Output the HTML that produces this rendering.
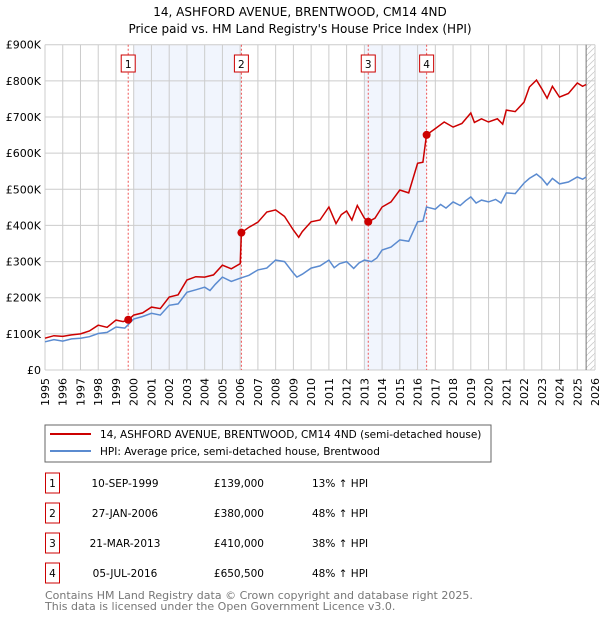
<!DOCTYPE html>
<html><head><meta charset="utf-8"><style>
body{margin:0;background:#fff;}
svg{display:block;font-family:"DejaVu Sans","Liberation Sans",sans-serif;}
</style></head><body>
<svg id="chart" width="600" height="620" viewBox="0 0 600 620">
<text x="300" y="16" text-anchor="middle" font-size="12">14, ASHFORD AVENUE, BRENTWOOD, CM14 4ND</text>
<text x="300" y="33" text-anchor="middle" font-size="12">Price paid vs. HM Land Registry's House Price Index (HPI)</text>
<g id="plot"></g>
<rect x="45" y="425" width="446" height="37" fill="#fff" stroke="#666"/>
<line x1="50" y1="434" x2="91" y2="434" stroke="#cc0000" stroke-width="2"/>
<text x="100" y="438" font-size="10.5">14, ASHFORD AVENUE, BRENTWOOD, CM14 4ND (semi-detached house)</text>
<line x1="50" y1="451" x2="91" y2="451" stroke="#5b8bd0" stroke-width="2"/>
<text x="100" y="455" font-size="10.5">HPI: Average price, semi-detached house, Brentwood</text>
<g id="table" font-size="10.5"></g>
<text x="45" y="599" font-size="11" fill="#777">Contains HM Land Registry data © Crown copyright and database right 2025.</text>
<text x="45" y="610" font-size="11" fill="#777">This data is licensed under the Open Government Licence v3.0.</text>
</svg>
<script>
const yTicks=[0,100,200,300,400,500,600,700,800,900];
const yTickLabels=["£0","£100K","£200K","£300K","£400K","£500K","£600K","£700K","£800K","£900K"];
const years=[1995,1996,1997,1998,1999,2000,2001,2002,2003,2004,2005,2006,2007,2008,2009,2010,2011,2012,2013,2014,2015,2016,2017,2018,2019,2020,2021,2022,2023,2024,2025,2026];
const hpiT=[1995,1995.5,1996,1996.5,1997,1997.5,1998,1998.5,1999,1999.5,2000,2000.5,2001,2001.5,2002,2002.5,2003,2003.5,2004,2004.3,2004.6,2005,2005.5,2006,2006.5,2007,2007.5,2008,2008.5,2009,2009.2,2009.5,2010,2010.5,2011,2011.3,2011.6,2012,2012.4,2012.7,2013,2013.4,2013.7,2014,2014.5,2015,2015.5,2016,2016.3,2016.5,2017,2017.3,2017.6,2018,2018.4,2018.7,2019,2019.3,2019.6,2020,2020.4,2020.7,2021,2021.5,2022,2022.3,2022.7,2023,2023.3,2023.6,2024,2024.5,2025,2025.3,2025.5];
const hpiV=[78,84,80,86,88,92,101,104,119,116,141,148,157,152,179,183,215,222,229,220,237,257,245,254,262,277,282,304,300,268,257,265,282,288,304,283,294,300,281,296,304,300,310,332,340,360,356,410,412,451,445,458,448,465,455,468,479,462,470,465,472,462,490,488,517,530,542,530,512,530,515,520,534,528,534];
const redT=[1995,1995.5,1996,1996.5,1997,1997.5,1998,1998.5,1999,1999.4,1999.7,2000,2000.5,2001,2001.5,2002,2002.5,2003,2003.5,2004,2004.5,2005,2005.5,2006,2006.07,2006.5,2007,2007.5,2008,2008.5,2009,2009.3,2009.5,2010,2010.5,2011,2011.4,2011.7,2012,2012.3,2012.6,2013,2013.22,2013.6,2014,2014.5,2015,2015.5,2016,2016.3,2016.5,2017,2017.5,2018,2018.5,2019,2019.2,2019.6,2020,2020.5,2020.8,2021,2021.5,2022,2022.3,2022.7,2023,2023.3,2023.6,2024,2024.5,2025,2025.3,2025.5];
const redV=[88,95,93,97,100,108,124,118,138,134,139,152,158,174,170,202,208,249,258,257,263,290,280,294,380,395,409,437,443,425,387,367,383,410,415,451,405,430,440,415,455,420,410,420,451,465,498,490,572,575,650.5,668,686,672,682,711,685,695,686,695,680,719,715,741,783,802,778,752,785,755,765,794,785,790];
const sales=[[1999.69,139],[2006.07,380],[2013.22,410],[2016.51,650.5]];
const saleLabels=["1","2","3","4"];
const saleDates=["10-SEP-1999","27-JAN-2006","21-MAR-2013","05-JUL-2016"];
const salePrices=["£139,000","£380,000","£410,000","£650,500"];
const saleHpi=["13% ↑ HPI","48% ↑ HPI","38% ↑ HPI","48% ↑ HPI"];
const shades=[[2000,2006.07],[2013.0,2016.51]];

const NS="http://www.w3.org/2000/svg";
const X0=45,X1=595,Y0=370,Y1=44.7;
const xs=t=>X0+(t-1995)/(2026-1995)*(X1-X0);
const ys=v=>Y0-v/900*(Y0-Y1);
function mk(tag,attrs,parent,text){const e=document.createElementNS(NS,tag);for(const k in attrs)e.setAttribute(k,attrs[k]);if(text!==undefined)e.textContent=text;parent.appendChild(e);return e;}
const g=document.getElementById('plot');
shades.forEach(s=>{const r=mk('rect',{x:xs(s[0]),y:Y1,width:xs(s[1])-xs(s[0]),height:Y0-Y1,fill:'#eef3fc',opacity:0.8},g);

});
// hatch
const defs=mk('defs',{},g);
const pat=mk('pattern',{id:'hatch',width:6,height:6,patternUnits:'userSpaceOnUse'},defs);
mk('path',{d:'M0,6 L6,0',stroke:'#ccc','stroke-width':0.8},pat);
const hr=mk('rect',{x:xs(2025.5),y:Y1,width:X1-xs(2025.5),height:Y0-Y1,fill:'url(#hatch)'},g);


years.forEach(y=>{const l=mk('line',{x1:xs(y),x2:xs(y),y1:Y1,y2:Y0,stroke:'#ccc','stroke-width':1},g);


const t=mk('text',{x:0,y:0,'font-size':11,'text-anchor':'end',transform:`translate(${xs(y)+4},${Y0+8}) rotate(-90)`},g,String(y));

});
yTicks.forEach((v,i)=>{const l=mk('line',{x1:X0,x2:X1,y1:ys(v),y2:ys(v),stroke:'#ccc','stroke-width':1},g);


const t=mk('text',{x:X0-4,y:ys(v)+4,'font-size':11,'text-anchor':'end'},g,yTickLabels[i]);

});
const nl=mk('line',{x1:xs(2025.5),x2:xs(2025.5),y1:Y1,y2:Y0,stroke:'#777','stroke-width':1},g);


sales.forEach((s,i)=>{const l=mk('line',{x1:xs(s[0]),x2:xs(s[0]),y1:Y1,y2:Y0,stroke:'#e55','stroke-width':1,'stroke-dasharray':'2,2'},g);


const r=mk('rect',{x:xs(s[0])-7,y:55,width:14,height:17,fill:'#fff',stroke:'#cc0000'},g);


const t=mk('text',{x:xs(s[0]),y:68,'font-size':10.5,'text-anchor':'middle'},g,saleLabels[i]);

});
function path(T,V){return T.map((t,i)=>(i?'L':'M')+xs(t).toFixed(1)+','+ys(V[i]).toFixed(1)).join(' ');}
const hp=mk('path',{d:path(hpiT,hpiV),fill:'none',stroke:'#5b8bd0','stroke-width':1.5},g);


const rp=mk('path',{d:path(redT,redV),fill:'none',stroke:'#cc0000','stroke-width':1.5},g);


sales.forEach(s=>{const c=mk('circle',{cx:xs(s[0]),cy:ys(s[1]),r:4,fill:'#cc0000'},g);

});
const tb=document.getElementById('table');
saleLabels.forEach((lab,i)=>{const cy=483+i*30;
const r=mk('rect',{x:45.5,y:cy-10,width:14,height:20,fill:'#fff',stroke:'#cc0000'},tb);


const a=mk('text',{x:52.5,y:cy+4,'text-anchor':'middle'},tb,lab);


const b=mk('text',{x:125,y:cy+4,'text-anchor':'middle'},tb,saleDates[i]);


const c=mk('text',{x:264,y:cy+4,'text-anchor':'end'},tb,salePrices[i]);


const d=mk('text',{x:312,y:cy+4},tb,saleHpi[i]);

});
</script>
</body></html>
